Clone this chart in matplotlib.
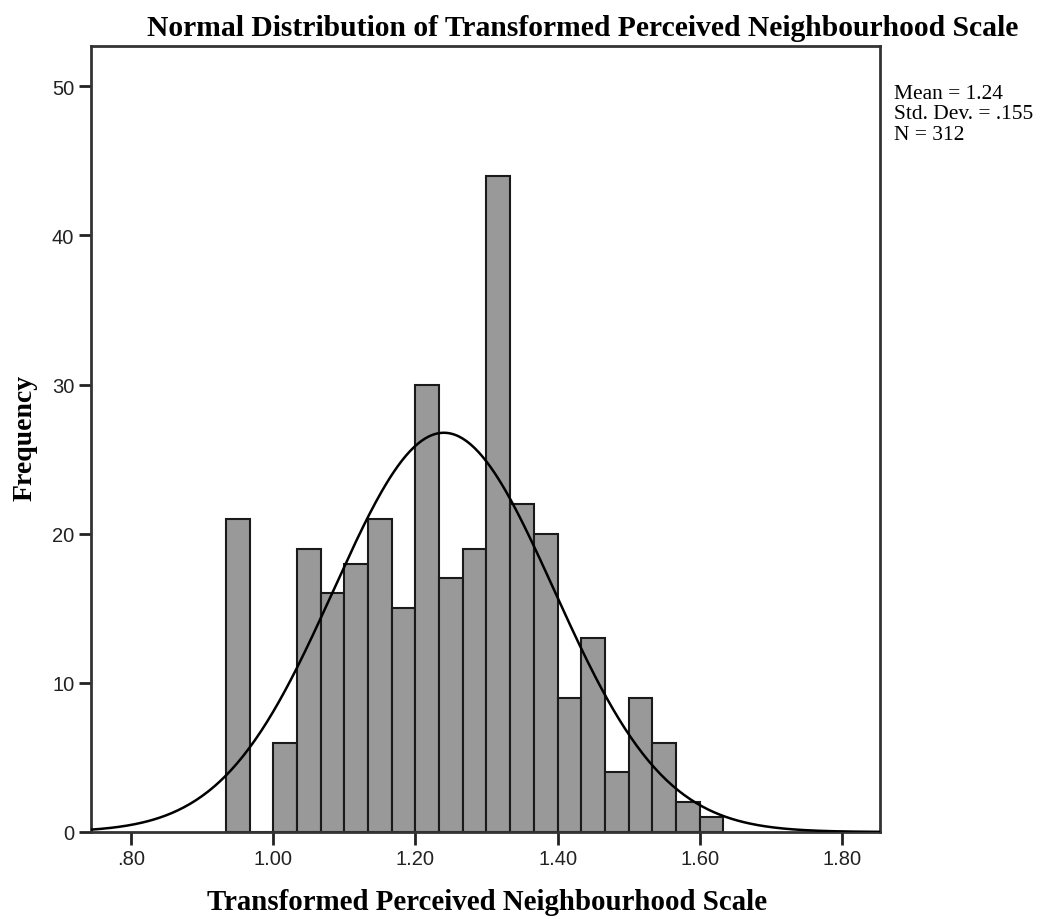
import numpy as np
import matplotlib.pyplot as plt

# histogram data (bin width 1/30)
bin_edges = [0.9333, 0.9667, 1.0, 1.0333, 1.0667, 1.1, 1.1333, 1.1667, 1.2, 1.2333,
             1.2667, 1.3, 1.3333, 1.3667, 1.4, 1.4333, 1.4667, 1.5, 1.5333, 1.5667,
             1.6, 1.6333]
counts = [21, 0, 6, 19, 16, 18, 21, 15, 30, 17, 19, 44, 22, 20, 9, 13, 4, 9, 6, 2, 1]

mean = 1.24
std = 0.155
n = 312

xticks = [0.8, 1.0, 1.2, 1.4, 1.6, 1.8]
xtick_labels = [".80", "1.00", "1.20", "1.40", "1.60", "1.80"]
yticks = [0, 10, 20, 30, 40, 50]

fig = plt.figure(figsize=(10.43, 9.2), dpi=100)
ax = fig.add_axes([91 / 1043, 1 - 833 / 920, (880 - 91) / 1043, (833 - 47) / 920])

edges = np.array(bin_edges)
widths = np.diff(edges)
ax.bar(edges[:-1], counts, width=widths, align="edge", color="#999999",
       edgecolor="#1a1a1a", linewidth=1.5, zorder=2)

# fitted normal curve scaled to counts
xmin, xmax = 0.7437, 1.8535
xs = np.linspace(xmin, xmax, 400)
bw = 1 / 30
ys = n * bw / (std * np.sqrt(2 * np.pi)) * np.exp(-0.5 * ((xs - mean) / std) ** 2)
ax.plot(xs, ys, color="black", linewidth=1.8, zorder=3)

ax.set_xlim(xmin, xmax)
ax.set_ylim(0, 52.7)
ax.set_xticks(xticks)
ax.set_xticklabels(xtick_labels)
ax.set_yticks(yticks)
for lab in ax.get_xticklabels() + ax.get_yticklabels():
    lab.set_family("Liberation Sans")
    lab.set_fontsize(14.5)
    lab.set_color("#222222")
ax.tick_params(direction="out", length=9, width=2, color="#222222", pad=3)
for s in ax.spines.values():
    s.set_linewidth(2)
    s.set_color("#333333")

fig.text(583 / 1043, 1 - 28 / 920, "Normal Distribution of Transformed Perceived Neighbourhood Scale",
         ha="center", va="center", fontsize=21.3, fontweight="bold", family="Liberation Serif")
fig.text(487 / 1043, 1 - 903 / 920, "Transformed Perceived Neighbourhood Scale",
         ha="center", va="center", fontsize=20.8, fontweight="bold", family="Liberation Serif")
fig.text(25 / 1043, 1 - 438 / 920, "Frequency", rotation=90,
         ha="center", va="center", fontsize=20, fontweight="bold", family="Liberation Serif")
fig.text(894 / 1043, 1 - 85 / 920, "Mean = 1.24\nStd. Dev. = .155\nN = 312",
         ha="left", va="top", fontsize=15.5, family="Liberation Serif", linespacing=1.1)

plt.savefig("out.png", dpi=100)
